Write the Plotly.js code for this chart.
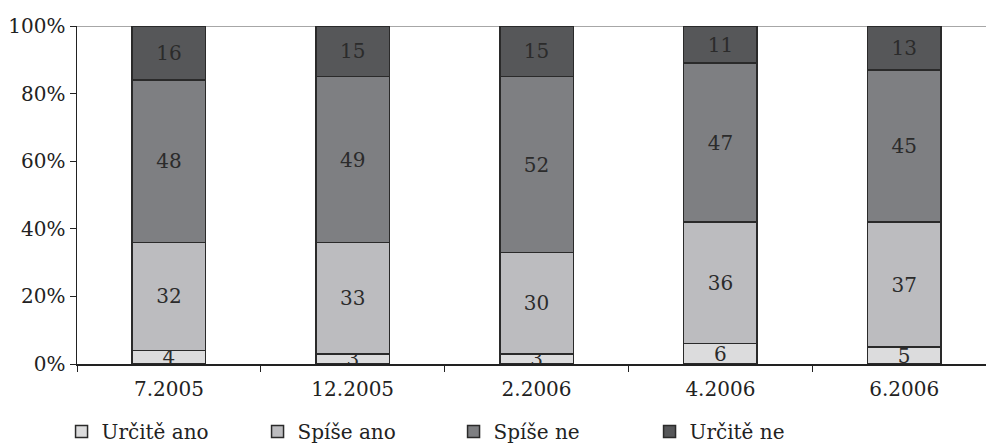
<!DOCTYPE html>
<html>
<head>
<meta charset="utf-8">
<script src="https://cdn.plot.ly/plotly-3.0.1.min.js"></script>
<style>html,body{margin:0;padding:0;background:#fff;}#chart{width:986px;height:446px;}</style>
</head>
<body>
<div id="chart"></div>
<script>
const categories = ["7.2005", "12.2005", "2.2006", "4.2006", "6.2006"];
const seriesNames = ["Určitě ano", "Spíše ano", "Spíše ne", "Určitě ne"];
const urciteAno = [4, 3, 3, 6, 5];
const spiseAno = [32, 33, 30, 36, 37];
const spiseNe = [48, 49, 52, 47, 45];
const urciteNe = [16, 15, 15, 11, 13];
const yTicks = [0, 20, 40, 60, 80, 100];
const yTickLabels = ["0%", "20%", "40%", "60%", "80%", "100%"];
const colors = ["#dcdcdd", "#bcbcbf", "#7e7f82", "#565759"];

const FONT = "DejaVu Serif";
const values = [urciteAno, spiseAno, spiseNe, urciteNe];
const traces = values.map((v, i) => ({
  type: "bar",
  name: seriesNames[i],
  x: categories,
  y: v,
  text: v.map(String),
  textposition: "inside",
  insidetextanchor: "middle",
  constraintext: "none",
  textangle: 0,
  textfont: {family: FONT, size: 20, color: "#2b2b2b"},
  marker: {color: colors[i], line: {color: "#2a2a2a", width: 1.5}},
  width: 0.4,
  hoverinfo: "none"
}));

const layout = {
  width: 986, height: 446,
  margin: {l: 77, r: 0, t: 26, b: 82, pad: 0, autoexpand: false},
  barmode: "stack",
  paper_bgcolor: "#fff", plot_bgcolor: "#fff",
  font: {family: FONT, size: 20, color: "#222"},
  showlegend: true,
  legend: {
    orientation: "h", x: -0.017, xanchor: "left", y: -0.2, yanchor: "middle",
    entrywidth: 151, entrywidthmode: "pixels",
    font: {family: FONT, size: 20, color: "#222"},
    traceorder: "normal", itemclick: false
  },
  xaxis: {
    type: "category", range: [-0.5, 4.445],
    showline: true, linecolor: "#222", linewidth: 1.5,
    ticks: "outside", tickson: "boundaries", ticklen: 6, tickcolor: "#222", tickwidth: 1,
    ticklabelstandoff: 6,
    showgrid: false, zeroline: false, fixedrange: true,
    tickfont: {family: FONT, size: 20, color: "#222"}
  },
  yaxis: {
    range: [0, 100], tickmode: "array", tickvals: yTicks, ticktext: yTickLabels,
    showline: true, linecolor: "#222", linewidth: 1.5,
    ticks: "outside", ticklen: 6, tickcolor: "#222", tickwidth: 1,
    showgrid: false, zeroline: false, fixedrange: true,
    tickfont: {family: FONT, size: 20, color: "#222"}
  },
  shapes: [{type: "line", xref: "paper", yref: "y", x0: 0, x1: 1, y0: 100, y1: 100,
            line: {color: "#8a8a8a", width: 1.5}, layer: "below"}]
};

Plotly.newPlot("chart", traces, layout, {staticPlot: true, displayModeBar: false});
</script>
</body>
</html>
